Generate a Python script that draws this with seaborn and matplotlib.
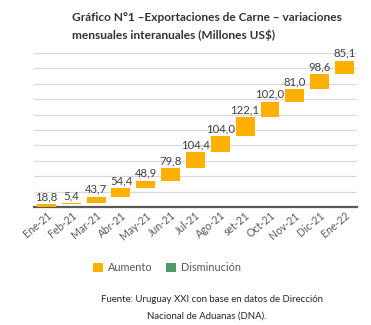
import numpy as np
import pandas as pd
import matplotlib
matplotlib.use("Agg")
import matplotlib.pyplot as plt
import seaborn as sns
from matplotlib.patches import Patch

months = ["Ene-21", "Feb-21", "Mar-21", "Abr-21", "May-21", "Jun-21", "Jul-21",
          "Ago-21", "set-21", "Oct-21", "Nov-21", "Dic-21", "Ene-22"]
values = [18.8, 5.4, 43.7, 54.4, 48.9, 79.8, 104.4, 104.0, 122.1, 102.0, 81.0, 98.6, 85.1]
labels = ["18,8", "5,4", "43,7", "54,4", "48,9", "79,8", "104,4", "104,0", "122,1",
          "102,0", "81,0", "98,6", "85,1"]

ORANGE = "#FFB000"
GREEN = "#4E9A68"

sns.set_theme(style="white")
plt.rcParams["font.family"] = ["Lato", "DejaVu Sans"]

vals = np.array(values)
tops = np.cumsum(vals)
bottoms = tops - vals
df = pd.DataFrame({"mes": months, "valor": values})

fig = plt.figure(figsize=(3.71, 3.25), dpi=100)
ax = fig.add_axes([0.0916, 0.363, 0.8704, 0.474])

sns.barplot(data=df, x="mes", y="valor", order=months, color=ORANGE,
            width=0.76, bottom=bottoms, ax=ax, saturation=1, zorder=3)
for p in ax.patches:
    p.set_edgecolor("none")

ax.set_ylim(0, 1000)
ax.set_xlim(-0.5, len(months) - 0.5)
ax.set_yticks(np.arange(0, 1001, 100))
ax.yaxis.grid(True, color="#D9D9D9", linewidth=0.9, zorder=0)
ax.set_axisbelow(True)
ax.set_yticklabels([])
ax.tick_params(axis="y", length=0)
for s in ["left", "right", "top"]:
    ax.spines[s].set_visible(False)
ax.spines["bottom"].set_color("#595959")
ax.spines["bottom"].set_linewidth(1.6)
ax.set_xlabel("")
ax.set_ylabel("")
ax.tick_params(axis="x", length=0, pad=2)
ax.set_xticks(range(len(months)))
ax.set_xticklabels(months, rotation=40, ha="right", rotation_mode="anchor",
                   fontsize=7.6, color="#595959")

for i, (t, lab) in enumerate(zip(tops, labels)):
    ax.annotate(lab, (i, t), xytext=(0, 1.5), textcoords="offset points",
                ha="center", va="bottom", fontsize=8.2, color="#404040", zorder=4)

fig.text(0.194, 0.945, "Gráfico N°1 –Exportaciones de Carne – variaciones",
         fontsize=8.6, fontweight="bold", color="#333333", ha="left", va="center")
fig.text(0.194, 0.893, "mensuales interanuales (Millones US$)",
         fontsize=8.6, fontweight="bold", color="#333333", ha="left", va="center")

handles = [Patch(facecolor=ORANGE, edgecolor="none", label="Aumento"),
           Patch(facecolor=GREEN, edgecolor="none", label="Disminución")]
fig.legend(handles=handles, loc="center", bbox_to_anchor=(0.45, 0.177), ncol=2,
           frameon=False, fontsize=7.8, handlelength=0.9, handleheight=0.9,
           handletextpad=0.5, columnspacing=1.2, labelcolor="#595959")

fig.text(0.572, 0.077, "Fuente: Uruguay XXI con base en datos de Dirección",
         fontsize=6.9, color="#262626", ha="center", va="center")
fig.text(0.558, 0.028, "Nacional de Aduanas (DNA).",
         fontsize=6.9, color="#262626", ha="center", va="center")

fig.savefig("out.png", dpi=100)
